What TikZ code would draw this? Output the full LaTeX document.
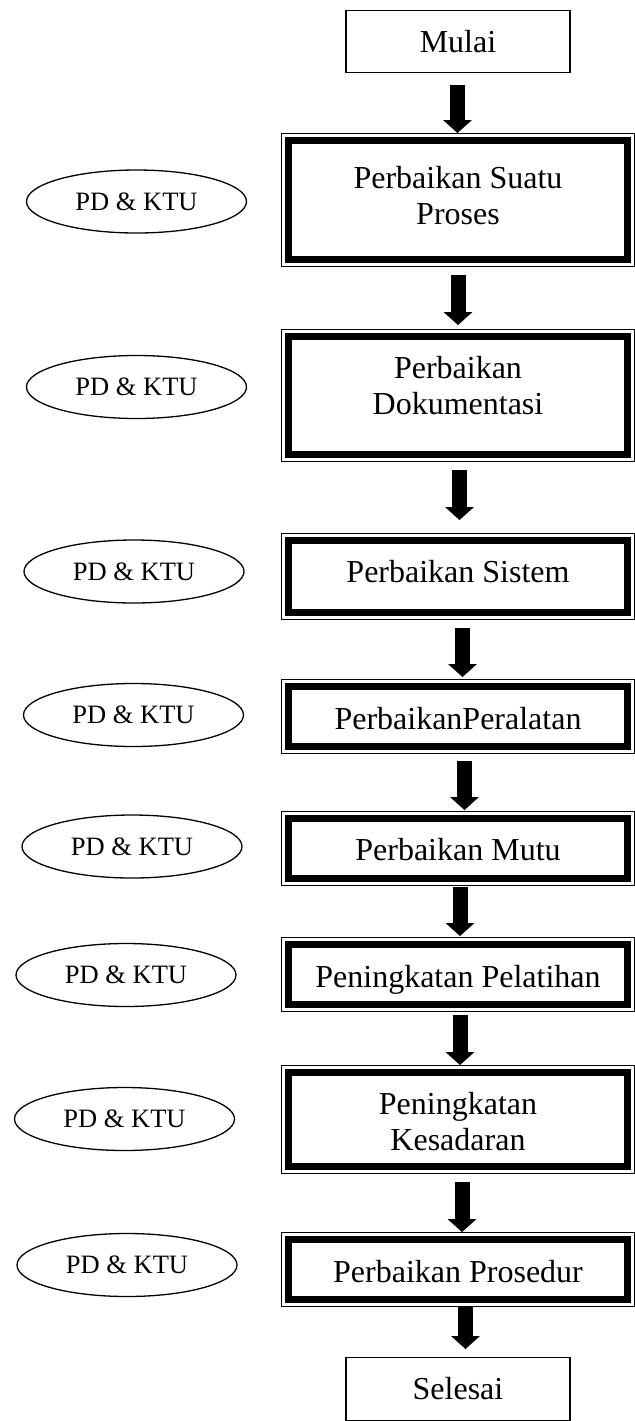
\documentclass[tikz,border=0pt]{standalone}
\usepackage{fontspec}
\setmainfont{Liberation Serif}
\usetikzlibrary{shapes.geometric,arrows.meta}
\newcommand\myboxfont{\fontsize{16}{18}\selectfont}
\newcommand\myellfont{\fontsize{13.25}{15}\selectfont}
\tikzset{
  boxframe/.style={draw, line width=0.6pt, rectangle, inner sep=0pt, outer sep=0pt, minimum width=176.5pt},
  boxthick/.style={draw, line width=3.5pt, rectangle, inner sep=0pt, outer sep=0pt, minimum width=169.5pt},
  endbox/.style={draw, line width=0.6pt, rectangle, inner sep=0pt, outer sep=0pt, minimum width=112pt, font=\myboxfont},
  boxtext/.style={inner sep=0pt, outer sep=0pt, align=center, font=\myboxfont},
  actor/.style={draw, ellipse, line width=0.65pt, inner sep=0pt, outer sep=0pt, minimum width=110pt, minimum height=31.5pt, font=\myellfont},
  blockarrow/.style={line width=7.5pt, -{Triangle[width=14.5pt,length=6.5pt,line width=0pt]}},
}
\begin{document}
\begin{tikzpicture}[x=0.5pt,y=-0.5pt]
\useasboundingbox (0,0) rectangle (635,1421);

% start / end
\node[endbox, minimum height=31pt] (mulai) at (458,41.5) {Mulai};
\node[endbox, minimum height=31.5pt] (selesai) at (458,1389) {Selesai};

% box 1
\node[boxframe, minimum height=66.5pt] (f1) at (458,200) {};
\node[boxthick, minimum height=59.5pt] (b1) at (458,200) {};
\node[boxtext] (t1) at (458,195.5) {Perbaikan Suatu\\Proses};
% box 2
\node[boxframe, minimum height=66pt] (f2) at (458,395.5) {};
\node[boxthick, minimum height=59pt] (b2) at (458,395.5) {};
\node[boxtext] (t2) at (458,386) {Perbaikan\\Dokumentasi};
% box 3
\node[boxframe, minimum height=43pt] (f3) at (458,576.5) {};
\node[boxthick, minimum height=36pt] (b3) at (458,576.5) {};
\node[boxtext, anchor=base] (t3) at (458,582) {Perbaikan Sistem};
% box 4
\node[boxframe, minimum height=37pt] (f4) at (458,716.5) {};
\node[boxthick, minimum height=30pt] (b4) at (458,716.5) {};
\node[boxtext, anchor=base] (t4) at (458,729) {PerbaikanPeralatan};
% box 5
\node[boxframe, minimum height=37pt] (f5) at (458,848.5) {};
\node[boxthick, minimum height=30pt] (b5) at (458,848.5) {};
\node[boxtext, anchor=base] (t5) at (458,860) {Perbaikan Mutu};
% box 6
\node[boxframe, minimum height=37pt] (f6) at (458,974.5) {};
\node[boxthick, minimum height=30pt] (b6) at (458,974.5) {};
\node[boxtext, anchor=base] (t6) at (458,987) {Peningkatan Pelatihan};
% box 7
\node[boxframe, minimum height=54pt] (f7) at (458,1119.5) {};
\node[boxthick, minimum height=47pt] (b7) at (458,1119.5) {};
\node[boxtext] (t7) at (458,1122) {Peningkatan\\Kesadaran};
% box 8
\node[boxframe, minimum height=37pt] (f8) at (458,1269.5) {};
\node[boxthick, minimum height=30pt] (b8) at (458,1269.5) {};
\node[boxtext, anchor=base] (t8) at (458,1282) {Perbaikan Prosedur};

% ellipses
\node[actor] (e1) at (136.5,201.5) {PD \& KTU};
\node[actor] (e2) at (136.5,387) {PD \& KTU};
\node[actor] (e3) at (134,571.5) {PD \& KTU};
\node[actor] (e4) at (133.5,715) {PD \& KTU};
\node[actor] (e5) at (132,846.5) {PD \& KTU};
\node[actor] (e6) at (126,975) {PD \& KTU};
\node[actor] (e7) at (124.5,1119) {PD \& KTU};
\node[actor] (e8) at (127,1265) {PD \& KTU};

% arrows
\draw[blockarrow] ([xshift=-0.25pt,yshift=-6.25pt]mulai.south) -- ([xshift=-0.25pt,yshift=0.25pt]f1.north);
\draw[blockarrow] ([xshift=0pt,yshift=-4.25pt]f1.south) -- ([xshift=0pt,yshift=2.25pt]f2.north);
\draw[blockarrow] ([xshift=0.75pt,yshift=-4.25pt]f2.south) -- ([xshift=0.75pt,yshift=6.75pt]f3.north);
\draw[blockarrow] ([xshift=2.25pt,yshift=-4.25pt]f3.south) -- ([xshift=2.25pt,yshift=1.25pt]f4.north);
\draw[blockarrow] ([xshift=3.25pt,yshift=-3.75pt]f4.south) -- ([xshift=3.25pt,yshift=0.75pt]f5.north);
\draw[blockarrow] ([xshift=1pt,yshift=-0.75pt]f5.south) -- ([xshift=1pt,yshift=0.75pt]f6.north);
\draw[blockarrow] ([xshift=1pt,yshift=-1.75pt]f6.south) -- ([xshift=1pt,yshift=0.25pt]f7.north);
\draw[blockarrow] ([xshift=2pt,yshift=-4.25pt]f7.south) -- ([xshift=2pt,yshift=0.25pt]f8.north);
\draw[blockarrow] ([xshift=3.75pt,yshift=0pt]f8.south) -- ([xshift=3.75pt,yshift=4.25pt]selesai.north);
\end{tikzpicture}
\end{document}
